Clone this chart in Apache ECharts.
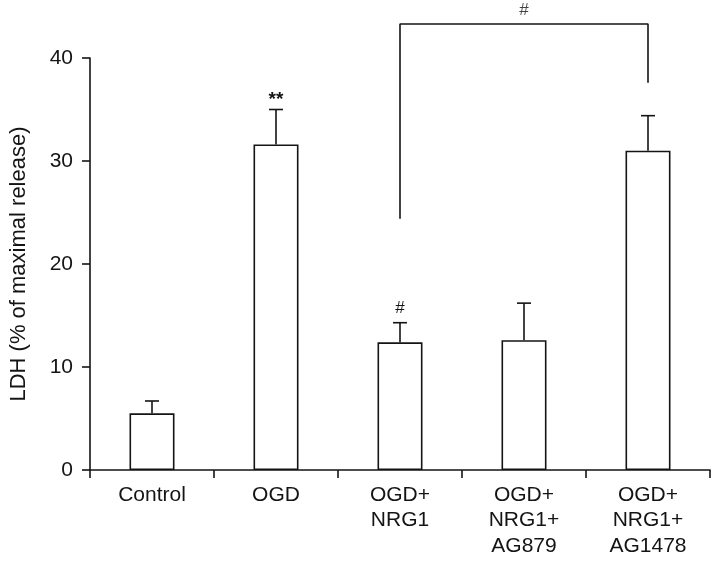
<!DOCTYPE html>
<html><head><meta charset="utf-8">
<script src="https://cdn.jsdelivr.net/npm/echarts@6/dist/echarts.min.js"></script>
<style>html,body{margin:0;padding:0;background:#fff}#c{width:712px;height:569px}</style>
</head><body><div id="c"></div>
<script>
const categories = ['Control', 'OGD', 'OGD+\nNRG1', 'OGD+\nNRG1+\nAG879', 'OGD+\nNRG1+\nAG1478'];
const means = [5.5, 31.6, 12.4, 12.6, 31.0];
const errors = [1.2, 3.4, 1.9, 3.6, 3.4];
const marks = ['', '**', '#', '', ''];
const yTicks = [0, 10, 20, 30, 40];
// comparison bracket: [category index, value] path, plus its label
const bracketPath = [[2, 24.4], [2, 43.3], [4, 43.3], [4, 37.6]];
const bracketLabel = { at: [3, 43.3], text: '#' };

const ink = '#141414';
const font = '"Liberation Sans", Arial, Helvetica, sans-serif';

const chart = echarts.init(document.getElementById('c'), null, { renderer: 'canvas' });
chart.setOption({
  animation: false,
  backgroundColor: '#fff',
  grid: { left: 85, right: 2, top: 58, bottom: 99, containLabel: false },
  xAxis: {
    type: 'category',
    data: categories,
    axisLine: { lineStyle: { color: ink, width: 1.6 } },
    axisTick: { show: true, length: 8, lineStyle: { color: ink, width: 1.6 } },
    axisLabel: { interval: 0, color: ink, fontSize: 21, fontFamily: font, lineHeight: 25.5, margin: 12 }
  },
  yAxis: {
    type: 'value',
    min: yTicks[0], max: yTicks[yTicks.length - 1], interval: 10,
    name: 'LDH (% of maximal release)',
    nameLocation: 'middle', nameGap: 60, nameRotate: 90,
    nameTextStyle: { color: ink, fontSize: 22, fontFamily: font },
    axisLine: { show: true, lineStyle: { color: ink, width: 1.6 } },
    axisTick: { show: true, length: 8, lineStyle: { color: ink, width: 1.6 } },
    axisLabel: { color: ink, fontSize: 21, fontFamily: font, margin: 17 },
    splitLine: { show: false }
  },
  series: [
    {
      type: 'bar',
      data: means,
      barWidth: 45,
      itemStyle: { color: '#fff', borderColor: ink, borderWidth: 1.6 },
      z: 2
    },
    {
      type: 'custom',
      data: means.map((m, i) => [i, m, errors[i]]),
      renderItem: function (params, api) {
        const i = api.value(0), m = api.value(1), e = api.value(2);
        const p0 = api.coord([i, m]);
        const p1 = api.coord([i, m + e]);
        const cap = 7;
        const children = [
          { type: 'line', shape: { x1: p0[0], y1: p0[1], x2: p1[0], y2: p1[1] }, style: { stroke: ink, lineWidth: 1.6 } },
          { type: 'line', shape: { x1: p1[0] - cap, y1: p1[1], x2: p1[0] + cap, y2: p1[1] }, style: { stroke: ink, lineWidth: 1.6 } }
        ];
        const t = marks[params.dataIndex];
        if (t) {
          const big = t === '**';
          children.push({ type: 'text', style: { text: t, x: p1[0], y: p1[1] - (big ? 10 : 14), align: 'center', verticalAlign: 'middle', fill: ink, font: (big ? 'bold 19px ' : '17px ') + font } });
        }
        return { type: 'group', children: children };
      },
      z: 3
    },
    {
      type: 'line',
      data: bracketPath,
      symbol: 'none',
      clip: false,
      lineStyle: { color: ink, width: 1.6 },
      z: 3
    },
    {
      type: 'scatter',
      data: [bracketLabel.at],
      symbolSize: 0,
      clip: false,
      label: { show: true, formatter: bracketLabel.text, position: 'top', distance: 5, color: ink, fontSize: 17, fontFamily: font },
      z: 3
    }
  ]
});
</script>
</body></html>
